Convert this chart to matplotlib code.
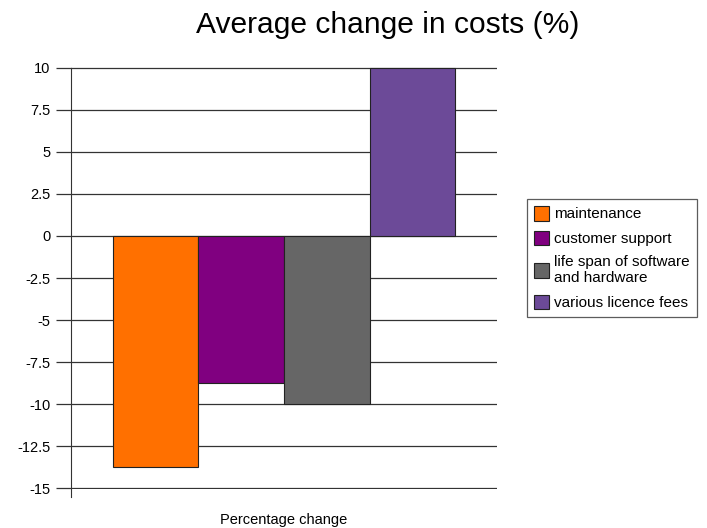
import matplotlib.pyplot as plt

categories = ["maintenance", "customer support",
              "life span of software\nand hardware", "various licence fees"]
values = [-13.75, -8.75, -10.0, 10.0]
colors = ["#ff7000", "#800080", "#666666", "#6c4a98"]
yticks = [10, 7.5, 5, 2.5, 0, -2.5, -5, -7.5, -10, -12.5, -15]
ytick_labels = ["10", "7.5", "5", "2.5", "0", "-2.5", "-5", "-7.5", "-10", "-12.5", "-15"]

plt.rcParams['font.family'] = ['Liberation Sans', 'DejaVu Sans']

fig = plt.figure(figsize=(7.07, 5.28), dpi=100)
ax = fig.add_axes([71 / 707, 1 - 489 / 528, 426 / 707, 422 / 528])

for i, (lab, v, c) in enumerate(zip(categories, values, colors)):
    ax.bar(i, v, width=1.0, color=c, edgecolor="#222222", linewidth=0.8,
           label=lab, zorder=3)

ax.set_xlim(-0.5 - 0.488, 3.5 + 0.488)
ax.set_ylim(-15.03, 10.03)
ax.set_yticks(yticks)
ax.set_yticklabels(ytick_labels, fontsize=10.5)
ax.yaxis.grid(True, color="#333333", linewidth=0.9, zorder=0)
ax.tick_params(axis="y", length=11, width=0.9, color="#333333", pad=4)
ax.set_xticks([])
for s in ["top", "right", "bottom"]:
    ax.spines[s].set_visible(False)
ax.spines["left"].set_color("#333333")
ax.spines["left"].set_bounds(-15.5, 10)
ax.set_xlabel("Percentage change", fontsize=10.5, labelpad=17)

fig.suptitle("Average change in costs (%)", fontsize=21.6, x=388 / 707, y=1 - 11 / 528, va="top")

leg = fig.legend(loc="upper left", bbox_to_anchor=(527 / 707, 1 - 199 / 528),
                 fontsize=11, frameon=True, fancybox=False, edgecolor="#333333",
                 handlelength=1.0, handleheight=1.1, handletextpad=0.35,
                 labelspacing=0.6, borderpad=0.45, borderaxespad=0)
leg.get_frame().set_linewidth(0.9)

fig.savefig("out.png", dpi=100)
